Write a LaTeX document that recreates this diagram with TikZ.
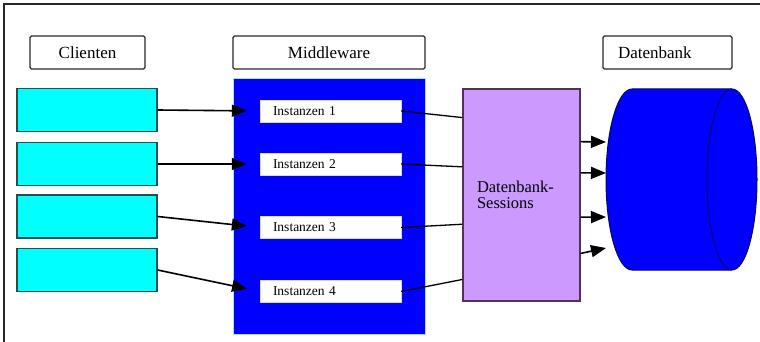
\documentclass[tikz,border=0pt]{standalone}
\usepackage{fontspec}
\setmainfont{Liberation Serif}
\usetikzlibrary{arrows.meta,calc}
\definecolor{mwblue}{RGB}{0,0,255}
\definecolor{clientcyan}{RGB}{0,255,255}
\definecolor{clientedge}{RGB}{30,80,80}
\definecolor{sessionfill}{RGB}{204,153,255}
\definecolor{sessionedge}{RGB}{80,50,90}
\definecolor{dbedge}{RGB}{10,10,90}
\definecolor{frameline}{RGB}{40,40,40}
\begin{document}
\begin{tikzpicture}[x=1pt,y=-1pt,
  labelbox/.style={draw=frameline,line width=1.3pt,fill=white,rounded corners=1.5pt,
    minimum height=33pt,inner sep=0pt,font=\fontsize{17}{19}\selectfont},
  clientbox/.style={draw=clientedge,line width=1.3pt,fill=clientcyan,
    minimum width=140pt,minimum height=43pt,inner sep=0pt},
  instbox/.style={fill=white,draw=white!85!black,line width=0.4pt,minimum height=22pt,
    text width=115pt,inner xsep=13pt,inner ysep=0pt,align=left,
    font=\fontsize{13.5}{15}\selectfont},
  sessionbox/.style={draw=sessionedge,line width=1.3pt,fill=sessionfill,
    minimum height=212pt,text width=89pt,inner xsep=14pt,align=left,
    font=\fontsize{16.5}{16}\selectfont},
  feed/.style={line width=1.6pt,-{Triangle[length=15pt,width=12pt]},shorten >=13pt},
  link/.style={line width=1.3pt},
  dbarrow/.style={line width=1.6pt,-{Triangle[length=15pt,width=12pt]}}]

\useasboundingbox (0,0) rectangle (760,342);
\fill[white] (0,0) rectangle (760,342);

% outer frame (top and left edges)
\draw[frameline,line width=2pt] (4,342) -- (4,4) -- (760,4);

% column headers
\node[labelbox,minimum width=115pt] (hclient) at (87.5,52.5) {Clienten};
\node[labelbox,minimum width=192pt] (hmiddle) at (329,52.5) {Middleware};
\node[labelbox,text width=99pt,inner xsep=15pt,align=left] (hdb) at (667.5,52.5) {Datenbank};

% clients
\node[clientbox] (c1) at (87,110) {};
\node[clientbox] (c2) at (87,164) {};
\node[clientbox] (c3) at (87,216.5) {};
\node[clientbox] (c4) at (87,270) {};

% middleware block with its instances
\node[fill=mwblue,draw=cyan!35!white,line width=0.8pt,minimum width=192pt,minimum height=256pt,inner sep=0pt] (mw) at (329,206) {};
\node[instbox] (i1) at (330.5,111) {Instanzen 1};
\node[instbox] (i2) at (330.5,164) {Instanzen 2};
\node[instbox] (i3) at (330.5,227.5) {Instanzen 3};
\node[instbox] (i4) at (330.5,291.5) {Instanzen 4};

% database sessions
\node[sessionbox] (sess) at (521.5,195) {Datenbank-\\Sessions};

% database cylinder
\path[fill=mwblue,draw=dbedge,line width=1pt]
  (632,89) -- (732,89) arc[start angle=90,end angle=-90,x radius=25pt,y radius=90.5pt]
  -- (632,270) arc[start angle=270,end angle=90,x radius=26pt,y radius=90.5pt] -- cycle;
\draw[dbedge,line width=0.8pt] (732,89) arc[start angle=90,end angle=270,x radius=25pt,y radius=90.5pt];
\coordinate (db1) at (606,142);
\coordinate (db2) at (606,173);
\coordinate (db3) at (606,217);
\coordinate (db4) at (606,248);

% clients to instances
\draw[feed] (c1.east) -- (i1.west);
\draw[feed] (c2.east) -- (i2.west);
\draw[feed] (c3.east) -- (i3.west);
\draw[feed] (c4.east) -- (i4.west);

% instances to sessions
\draw[link] (i1.east) -- ($(sess.north west)!0.137!(sess.south west)$);
\draw[link] (i2.east) -- ($(sess.north west)!0.368!(sess.south west)$);
\draw[link] (i3.east) -- ($(sess.north west)!0.637!(sess.south west)$);
\draw[link] (i4.east) -- ($(sess.north west)!0.896!(sess.south west)$);

% sessions to database
\draw[dbarrow] ($(sess.north east)!0.25!(sess.south east)$) -- (db1);
\draw[dbarrow] ($(sess.north east)!0.396!(sess.south east)$) -- (db2);
\draw[dbarrow] ($(sess.north east)!0.604!(sess.south east)$) -- (db3);
\draw[dbarrow] ($(sess.north east)!0.774!(sess.south east)$) -- (db4);
\end{tikzpicture}
\end{document}
